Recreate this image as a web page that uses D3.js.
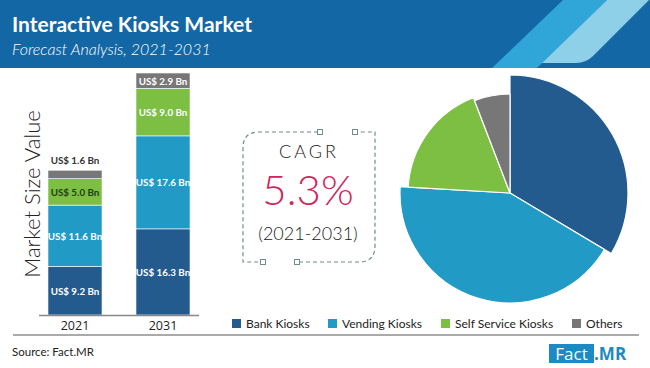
<!DOCTYPE html>
<html lang="en">
<head>
<meta charset="UTF-8">
<title>Interactive Kiosks Market</title>
<script src="https://cdn.jsdelivr.net/npm/d3@7"></script>
<style>
  body { margin: 0; background: #fff; }
  svg { display: block; }
</style>
</head>
<body>
<script>
    // data
    const years = ['2021', '2031']
    const segments = ['Bank Kiosks', 'Vending Kiosks', 'Self Service Kiosks', 'Others']
    const values2021 = [9.2, 11.6, 5.0, 1.6]
    const values2031 = [16.3, 17.6, 9.0, 2.9]
    const cagrValue = '5.3%'
    const cagrPeriod = '(2021-2031)'

    const colors = ['#245b8f', '#229ac6', '#7cbf42', '#777777']
    const pieRadius = [118, 110, 102, 99] // bank slice pops out the most

    const [width, height] = [650, 368]
    const svg = d3.select('body').append('svg')
        .attr('width', width)
        .attr('height', height)

    // header band
    const head = svg.append('g')
    head.append('rect').attr('width', width).attr('height', 68).attr('fill', '#1467a5')
    head.append('path').attr('fill', '#2fa5d8')
        .attr('d', 'M563,0 L607,0 L537,68 L492,68 Z')
    head.append('path').attr('fill', '#8fd0e9')
        .attr('d', 'M607,0 L649,0 L593,56 Q586,63 576,63 L542,63 Z')
    head.append('text').attr('x', 12).attr('y', 32)
        .attr('fill', '#fff').attr('font-family', 'Lato').attr('font-weight', 700)
        .attr('font-size', 21).text('Interactive Kiosks Market')
    head.append('text').attr('x', 12).attr('y', 55)
        .attr('fill', '#fff').attr('font-family', 'Lato').attr('font-weight', 300)
        .attr('font-style', 'italic').attr('font-size', 16).text('Forecast Analysis, 2021-2031')

    // stacked bars
    const x = d3.scaleBand().domain(years).range([31, 207]).paddingInner(0.386).paddingOuter(0.193)
    const y = d3.scaleLinear().domain([0, 45.8]).range([315, 73])

    const rows = years.map((yr, i) => {
        const row = { year: yr }
        const vals = i === 0 ? values2021 : values2031
        segments.forEach((s, j) => row[s] = vals[j])
        return row
    })
    const stack = d3.stack().keys(segments)(rows)

    const labelColor = (j, yr) => {
        if (j === 3 && yr === '2021') return '#333'
        if (j === 2 && yr === '2021') return '#1f3d12'
        return '#fff'
    }

    stack.forEach((layer, j) => {
        const g = svg.append('g')
        g.selectAll('rect').data(layer).enter().append('rect')
            .attr('x', d => x(d.data.year))
            .attr('y', d => y(d[1]))
            .attr('width', x.bandwidth())
            .attr('height', d => y(d[0]) - y(d[1]))
            .attr('fill', colors[j])
            .attr('stroke', '#fff').attr('stroke-width', 0.6)
        g.selectAll('text').data(layer).enter().append('text')
            .attr('x', d => x(d.data.year) + x.bandwidth() / 2)
            .attr('y', d => {
                const h = y(d[0]) - y(d[1])
                return h < 12 ? y(d[1]) - 6 : (y(d[0]) + y(d[1])) / 2 + 4
            })
            .attr('text-anchor', 'middle')
            .attr('font-family', 'Lato').attr('font-weight', 700).attr('font-size', 9.8)
            .attr('fill', d => labelColor(j, d.data.year))
            .text(d => 'US$ ' + (d[1] - d[0]).toFixed(1) + ' Bn')
    })

    svg.append('line').attr('x1', 39).attr('x2', 199).attr('y1', 315.5).attr('y2', 315.5)
        .attr('stroke', '#888').attr('stroke-width', 1.5)
    svg.append('g').selectAll('text').data(years).enter().append('text')
        .attr('x', d => x(d) + x.bandwidth() / 2).attr('y', 330)
        .attr('text-anchor', 'middle').attr('font-family', 'Open Sans').attr('font-size', 12.5)
        .attr('fill', '#222').text(d => d)

    svg.append('text').attr('transform', 'translate(40,194) rotate(-90)')
        .attr('text-anchor', 'middle').attr('font-family', 'Lato').attr('font-weight', 300)
        .attr('font-size', 22).attr('fill', '#222').text('Market Size Value')

    // CAGR box
    const boxColor = '#6f8e8b'
    svg.append('path').attr('fill', 'none').attr('stroke', boxColor)
        .attr('stroke-width', 1.2).attr('stroke-dasharray', '4,3')
        .attr('d', 'M318,132 L259,132 Q243,132 243,148 L243,262 L261,262 M299,262 L359,262 Q375,262 375,246 L375,132 L357,132')
    svg.append('g').selectAll('rect').data([[320, 132], [355, 132], [263, 262], [297, 262]])
        .enter().append('rect')
        .attr('x', d => d[0] - 2.5).attr('y', d => d[1] - 2.5)
        .attr('width', 5).attr('height', 5)
        .attr('fill', '#fff').attr('stroke', boxColor).attr('stroke-width', 1)
    svg.append('text').attr('x', 309).attr('y', 158).attr('text-anchor', 'middle')
        .attr('font-family', 'Lato').attr('font-weight', 300).attr('font-size', 18)
        .attr('letter-spacing', 3).attr('fill', '#222').text('CAGR')
    svg.append('text').attr('x', 308).attr('y', 205).attr('text-anchor', 'middle')
        .attr('font-family', 'Lato').attr('font-weight', 300).attr('font-size', 42)
        .attr('fill', '#d0245a').text(cagrValue)
    svg.append('text').attr('x', 308).attr('y', 240).attr('text-anchor', 'middle')
        .attr('font-family', 'Lato').attr('font-weight', 300).attr('font-size', 18)
        .attr('fill', '#222').text(cagrPeriod)

    // pie (2021 split)
    const pie = d3.pie().sort(null)(values2021)
    const pg = svg.append('g').attr('transform', 'translate(510,193)')
    pg.selectAll('path').data(pie).enter().append('path')
        .attr('d', (d, i) => d3.arc().innerRadius(0).outerRadius(pieRadius[i])(d))
        .attr('fill', (d, i) => colors[i])
        .attr('stroke', '#fff').attr('stroke-width', 1.2)

    // legend
    const legendX = [232, 328, 441, 572]
    const lg = svg.append('g').selectAll('g').data(segments).enter().append('g')
        .attr('transform', (d, i) => `translate(${legendX[i]},319)`)
    lg.append('rect').attr('width', 9).attr('height', 9).attr('fill', (d, i) => colors[i])
    lg.append('text').attr('x', 14).attr('y', 8.5)
        .attr('font-family', 'Lato').attr('font-size', 12).attr('fill', '#222').text(d => d)

    // footer
    svg.append('line').attr('x1', 13).attr('x2', 639).attr('y1', 335).attr('y2', 335)
        .attr('stroke', '#aaa').attr('stroke-width', 2)
    svg.append('text').attr('x', 12).attr('y', 356)
        .attr('font-family', 'Lato').attr('font-size', 11.5).attr('fill', '#222').text('Source: Fact.MR')
    svg.append('rect').attr('x', 549).attr('y', 344).attr('width', 45).attr('height', 19).attr('fill', '#1d8ac4')
    svg.append('text').attr('x', 571.5).attr('y', 360).attr('text-anchor', 'middle')
        .attr('font-family', 'Open Sans').attr('font-size', 17).attr('fill', '#fff').text('Fact')
    svg.append('text').attr('x', 594).attr('y', 360)
        .attr('font-family', 'Open Sans').attr('font-weight', 700).attr('font-size', 17)
        .attr('fill', '#1d8ac4').text('.MR')
</script>
</body>
</html>
